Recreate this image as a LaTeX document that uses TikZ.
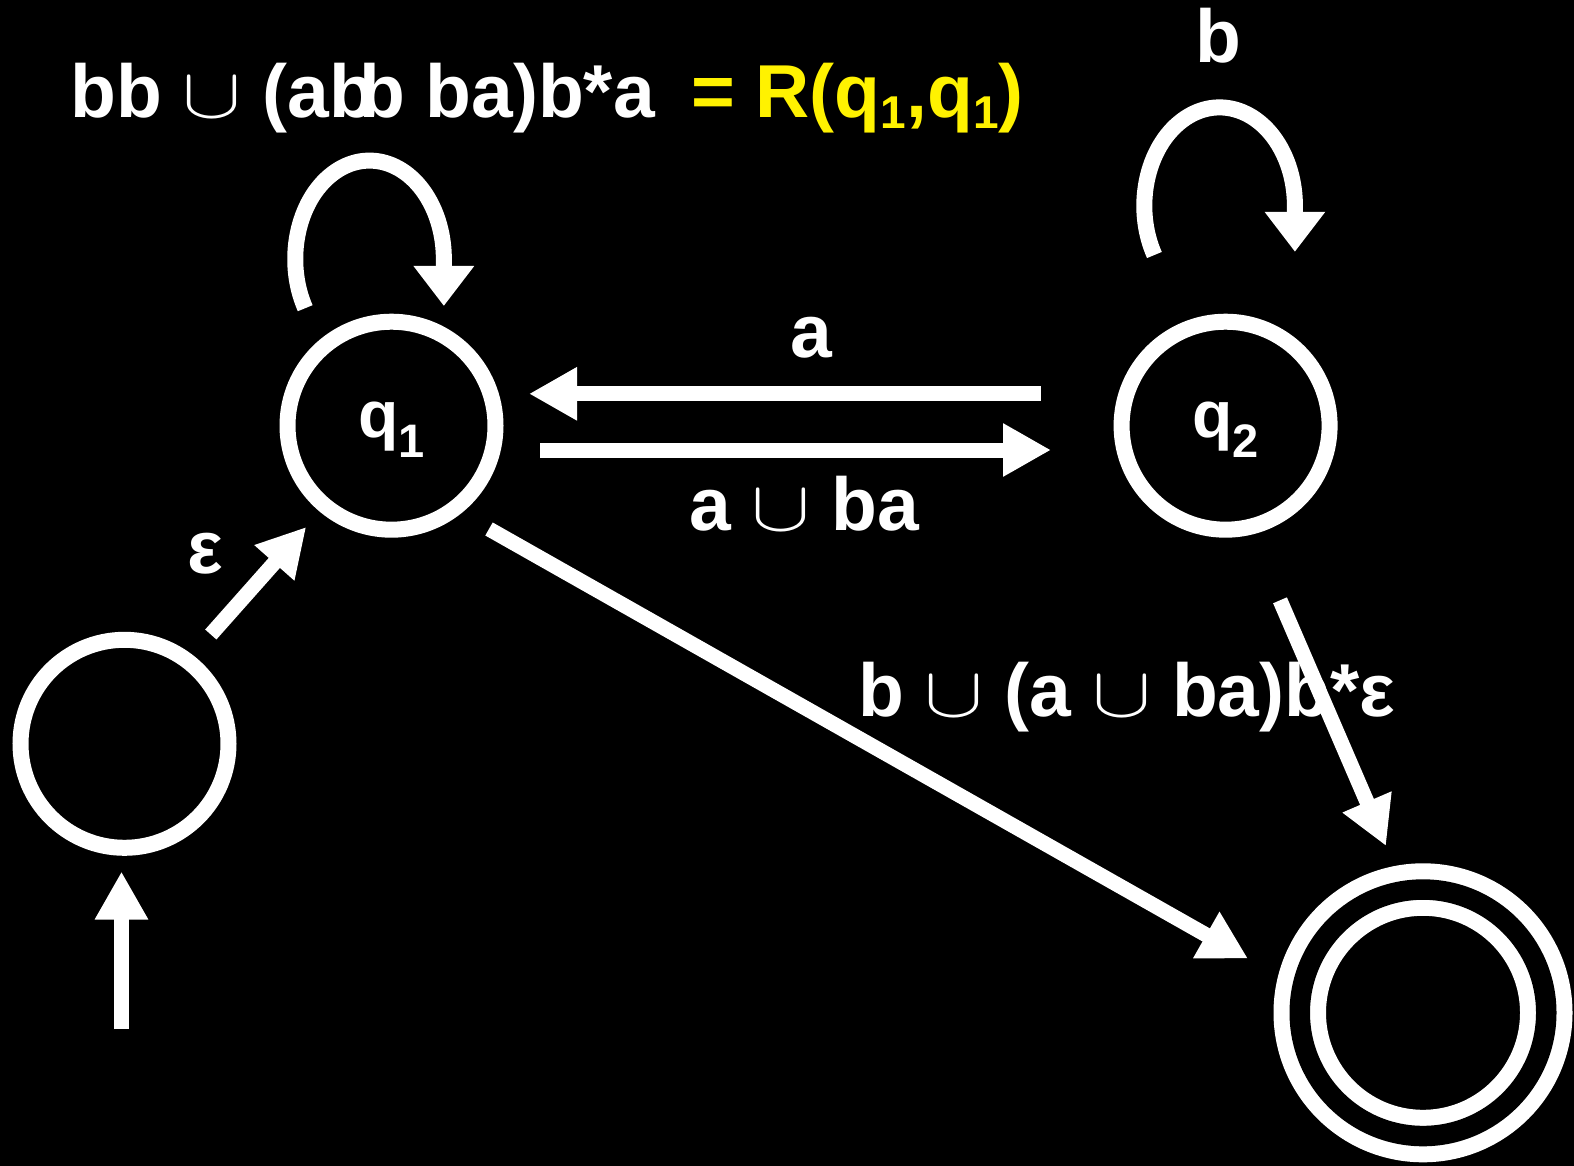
\documentclass[tikz,border=0pt]{standalone}
\usepackage{fix-cm}
\usepackage{fontspec}
\setmainfont{Liberation Sans}
\usetikzlibrary{arrows.meta,calc}

% lowered subscripts for state names
\newcommand\subq[1]{\raisebox{-20pt}{\fontsize{47}{47}\selectfont #1}}
\newcommand\subr[1]{\raisebox{-11pt}{\fontsize{46}{46}\selectfont #1}}
% thin, wide union sign
\newcommand\unionsym{\scalebox{1.18}[0.95]{$\cup$}}

\tikzset{
  state/.style={circle, draw=white, line width=16pt, minimum size=208pt,
    inner sep=0pt, text=white, text height=39pt, text depth=15pt,
    font=\bfseries\fontsize{66}{66}\selectfont},
  conn/.style={draw=white, line width=15pt, -{Triangle[length=48pt,width=50pt]}},
  loopc/.style={draw=white, line width=16pt, -{Triangle[length=40pt,width=58pt]}},
  lbl/.style={text=white, inner sep=0pt, font=\bfseries\fontsize{75}{75}\selectfont},
}

\begin{document}
\begin{tikzpicture}[x=1pt,y=-1pt]
  % canvas
  \fill[black] (0,0) rectangle (1574,1166);
  \useasboundingbox (0,0) rectangle (1574,1166);

  % states
  \node[state] (q1) at (391.5,425.7) {q\subq{1}};
  \node[state] (q2) at (1225.6,425.7) {q\subq{2}};
  \node[state] (s) at (124.5,743.8) {};
  \node[state, double=black, double distance=20.5pt, minimum size=246.5pt] (f) at (1423,1012.8) {};

  % transitions between q1 and q2
  \draw[conn] ($(q2)+(-185,-31.9)$) -- ($(q1)+(137.5,-31.9)$);
  \draw[conn] ($(q1)+(148.5,24.3)$) -- ($(q2)+(-174.6,24.3)$);

  % transitions into the accepting state
  \draw[conn] ($(q1)+(97.5,103.3)$) -- ($(f)+(-175,-54.2)$);
  \draw[conn] ($(q2)+(54.4,174.6)$) -- ($(f)+(-37,-166.8)$);

  % start arrow and epsilon move
  \coordinate (init) at (121.5,1029);
  \draw[conn] (init) -- ($(s)+(-3,127.7)$);
  \draw[conn] ($(s)+(86.3,-109.3)$) -- ($(q1)+(-85.3,101.3)$);

  % self loops
  \draw[loopc] ($(q1)+(-86.3,-117.5)$)
    arc[start angle=150, end angle=360, x radius=74.3, y radius=98.4] -- ++(0,47);
  \draw[loopc] ($(q2)+(-71.2,-170.7)$)
    arc[start angle=150, end angle=360, x radius=75.3, y radius=98.4] -- ++(0,46);

  % labels
  \node[lbl, anchor=base] (la) at (811.5,357) {a};
  \node[lbl, anchor=base] (lab) at (804,530) {a \unionsym{} ba};
  \node[lbl, anchor=base] (lb) at (1218,63) {b};
  \node[lbl, anchor=base] (leps) at (205,573) {ε};
  \node[lbl, anchor=base west] (lbig) at (858,716) {b \unionsym{} (a \unionsym{} ba)b*ε};
  \node[lbl, anchor=base west] (ltop) at (70,117.5) {bb \unionsym{} (ab\kern-16pt b ba)b*a};
  \node[lbl, text=yellow, anchor=base west] (lR) at (691,117.5) {= R(q\subr{1},q\subr{1})};
\end{tikzpicture}
\end{document}
